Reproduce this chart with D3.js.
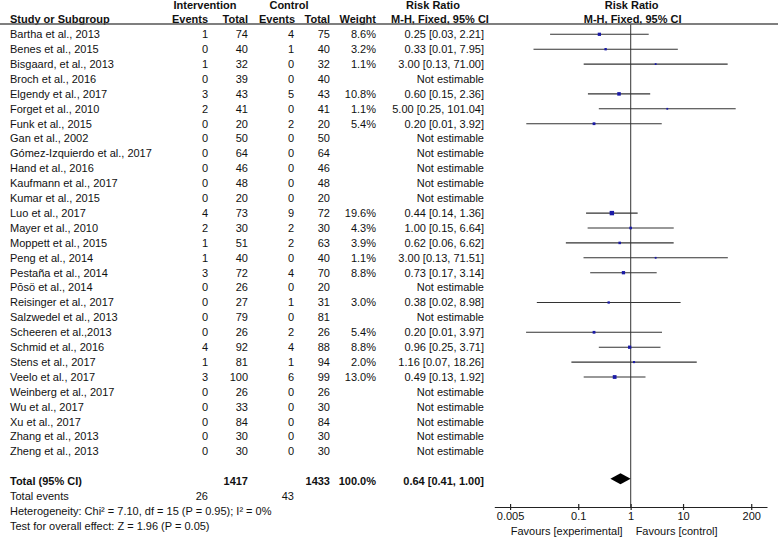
<!DOCTYPE html>
<html>
<head>
<meta charset="utf-8">
<script src="https://cdn.jsdelivr.net/npm/d3@7"></script>
<style>
  html, body { margin: 0; padding: 0; background: #fff; }
  svg { display: block; }
  text { font-family: "Liberation Sans", Arial, Helvetica, sans-serif; font-size: 11px; fill: #111; }
  .b { font-weight: bold; }
</style>
</head>
<body>
<svg id="chart" width="778" height="539"></svg>
<script>
const studies = ["Bartha et al., 2013","Benes et al., 2015","Bisgaard, et al., 2013","Broch et al., 2016",
  "Elgendy et al., 2017","Forget et al., 2010","Funk et al., 2015","Gan et al., 2002",
  "Gómez-Izquierdo et al., 2017","Hand et al., 2016","Kaufmann et al., 2017","Kumar et al., 2015",
  "Luo et al., 2017","Mayer et al., 2010","Moppett et al., 2015","Peng et al., 2014",
  "Pestaña et al., 2014","Pōsö et al., 2014","Reisinger et al., 2017","Salzwedel et al., 2013",
  "Scheeren et al.,2013","Schmid et al., 2016","Stens et al., 2017","Veelo et al., 2017",
  "Weinberg et al., 2017","Wu et al., 2017","Xu et al., 2017","Zhang et al., 2013","Zheng et al., 2013"];
const intEvents  = [1,0,1,0,3,2,0,0,0,0,0,0,4,2,1,1,3,0,0,0,0,4,1,3,0,0,0,0,0];
const intTotal   = [74,40,32,39,43,41,20,50,64,46,48,20,73,30,51,40,72,26,27,79,26,92,81,100,26,33,84,30,30];
const ctrlEvents = [4,1,0,0,5,0,2,0,0,0,0,0,9,2,2,0,4,0,1,0,2,4,1,6,0,0,0,0,0];
const ctrlTotal  = [75,40,32,40,43,41,20,50,64,46,48,20,72,30,63,40,70,20,31,81,26,88,94,99,26,30,84,30,30];
const weights    = [8.6,3.2,1.1,null,10.8,1.1,5.4,null,null,null,null,null,19.6,4.3,3.9,1.1,8.8,null,3.0,null,5.4,8.8,2.0,13.0,null,null,null,null,null];
const rrPoint    = [0.253,0.333,3.00,null,0.60,5.00,0.20,null,null,null,null,null,0.438,1.00,0.618,3.00,0.729,null,0.381,null,0.20,0.957,1.16,0.495,null,null,null,null,null];
const rrLow      = [0.029,0.014,0.127,null,0.153,0.247,0.0102,null,null,null,null,null,0.141,0.151,0.058,0.126,0.169,null,0.0162,null,0.0101,0.247,0.074,0.127,null,null,null,null,null];
const rrHigh     = [2.21,7.95,71.0,null,2.36,101.04,3.92,null,null,null,null,null,1.36,6.64,6.62,71.51,3.14,null,8.98,null,3.97,3.71,18.26,1.92,null,null,null,null,null];
const rrText     = ["0.25 [0.03, 2.21]","0.33 [0.01, 7.95]","3.00 [0.13, 71.00]","Not estimable",
  "0.60 [0.15, 2.36]","5.00 [0.25, 101.04]","0.20 [0.01, 3.92]","Not estimable","Not estimable",
  "Not estimable","Not estimable","Not estimable","0.44 [0.14, 1.36]","1.00 [0.15, 6.64]",
  "0.62 [0.06, 6.62]","3.00 [0.13, 71.51]","0.73 [0.17, 3.14]","Not estimable","0.38 [0.02, 8.98]",
  "Not estimable","0.20 [0.01, 3.97]","0.96 [0.25, 3.71]","1.16 [0.07, 18.26]","0.49 [0.13, 1.92]",
  "Not estimable","Not estimable","Not estimable","Not estimable","Not estimable"];
const totalRow   = { label: "Total (95% CI)", intTotal: "1417", ctrlTotal: "1433", weight: "100.0%", text: "0.64 [0.41, 1.00]" };
const pooled     = [0.41, 0.64, 1.00];
const totalEvents = ["26", "43"];
const heterogeneityText = "Heterogeneity: Chi² = 7.10, df = 15 (P = 0.95); I² = 0%";
const overallText = "Test for overall effect: Z = 1.96 (P = 0.05)";
const tickValues = [0.005, 0.1, 1, 10, 200];
const tickLabels = ["0.005", "0.1", "1", "10", "200"];
const favourLabels = ["Favours [experimental]", "Favours [control]"];

const svg = d3.select("#chart");

// row scale: index -> text centre
const y = d3.scaleLinear().domain([0, 33]).range([34.3, 526]);
const x = d3.scaleLog().domain([0.0025, 400]).range([494.3, 767]);
const box = d3.scaleSqrt().domain([0, 19.6]).range([1, 4.4]);

const col = { name: 10, ie: 208, it: 248, ce: 294, ct: 330, w: 376, rr: 484 };

function txt(xp, yp, s, anchor, bold) {
  return svg.append("text").attr("x", xp).attr("y", yp).attr("dy", "0.35em")
    .attr("text-anchor", anchor || "start").attr("class", bold ? "b" : null).text(s);
}

// headers
txt(205, 5.5, "Intervention", "middle", true);
txt(289, 5.5, "Control", "middle", true);
txt(433, 5.5, "Risk Ratio", "middle", true);
txt(x(1) + 1, 5.5, "Risk Ratio", "middle", true);
txt(col.name, 19.3, "Study or Subgroup", "start", true);
txt(col.ie, 19.3, "Events", "end", true);
txt(col.it, 19.3, "Total", "end", true);
txt(295, 19.3, "Events", "end", true);
txt(col.ct, 19.3, "Total", "end", true);
txt(col.w, 19.3, "Weight", "end", true);
txt(440, 19.3, "M-H, Fixed, 95% CI", "middle", true);
txt(x(1) + 2, 19.3, "M-H, Fixed, 95% CI", "middle", true);

svg.append("line").attr("x1", 0).attr("x2", 778).attr("y1", 24).attr("y2", 24)
  .attr("stroke", "#555").attr("stroke-width", 1.5);

// vertical line at 1
const axisY = 507;
svg.append("line").attr("x1", x(1)).attr("x2", x(1)).attr("y1", 24).attr("y2", axisY)
  .attr("stroke", "#555").attr("stroke-width", 1.2);

// study rows
studies.forEach((s, i) => {
  const yc = y(i);
  txt(col.name, yc, s);
  txt(col.ie, yc, intEvents[i], "end");
  txt(col.it, yc, intTotal[i], "end");
  txt(col.ce, yc, ctrlEvents[i], "end");
  txt(col.ct, yc, ctrlTotal[i], "end");
  if (weights[i] != null) txt(col.w, yc, weights[i].toFixed(1) + "%", "end");
  txt(col.rr, yc, rrText[i], "end");
  if (rrPoint[i] != null) {
    svg.append("line").attr("x1", x(rrLow[i])).attr("x2", x(rrHigh[i]))
      .attr("y1", yc).attr("y2", yc).attr("stroke", "#333").attr("stroke-width", 1.1);
    const sz = box(weights[i]);
    svg.append("rect").attr("x", x(rrPoint[i]) - sz / 2).attr("y", yc - sz / 2)
      .attr("width", sz).attr("height", sz).attr("fill", "#1a1aa6");
  }
});

// total row
const yt = y(30);
txt(col.name, yt, totalRow.label, "start", true);
txt(col.it, yt, totalRow.intTotal, "end", true);
txt(col.ct, yt, totalRow.ctrlTotal, "end", true);
txt(col.w, yt, totalRow.weight, "end", true);
txt(col.rr, yt, totalRow.text, "end", true);
const yd = yt - 2.5;
svg.append("path")
  .attr("d", d3.line()([[x(pooled[0]), yd], [x(pooled[1]), yd - 5.5], [x(pooled[2]), yd], [x(pooled[1]), yd + 5.5]]) + "Z")
  .attr("fill", "#000");

txt(col.name, y(31), "Total events");
txt(col.ie, y(31), totalEvents[0], "end");
txt(col.ce, y(31), totalEvents[1], "end");
txt(col.name, y(32), heterogeneityText);
txt(col.name, y(33), overallText);

// axis
const axis = d3.axisBottom(x).tickValues(tickValues).tickFormat((d, i) => tickLabels[i])
  .tickSizeOuter(0).tickSizeInner(3).tickPadding(2);
const g = svg.append("g").attr("transform", `translate(0,${axisY})`).call(axis);
g.select(".domain").attr("stroke", "#222").attr("stroke-width", 1.2);
g.selectAll(".tick line").attr("y1", -3).attr("y2", 3).attr("stroke", "#222").attr("stroke-width", 1.2);
g.selectAll(".tick text").attr("font-size", 11).attr("font-family", "Liberation Sans, Arial, sans-serif").attr("fill", "#111");

txt(x(1) - 8, 531.5, favourLabels[0], "end");
txt(x(1) + 5, 531.5, favourLabels[1], "start");
</script>
</body>
</html>
